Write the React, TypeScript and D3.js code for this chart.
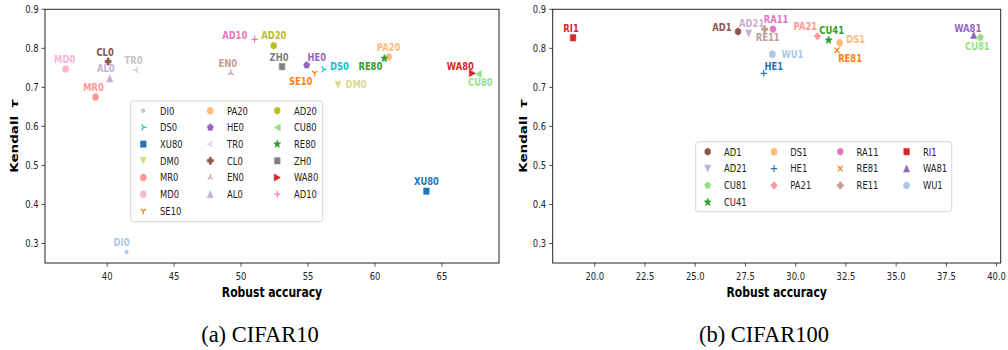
import React, { useEffect, useRef } from 'react'
import * as d3 from 'd3'

// ---- CIFAR10 panel data ----
const c10Names = ['DI0', 'DS0', 'XU80', 'DM0', 'MR0', 'MD0', 'SE10', 'PA20', 'HE0', 'TR0',
  'CL0', 'EN0', 'AL0', 'AD20', 'CU80', 'RE80', 'ZH0', 'WA80', 'AD10']
const c10Acc = [41.45, 56.15, 63.84, 57.24, 39.13, 36.9, 55.5, 61.02, 54.9, 42.19,
  40.07, 49.23, 40.2, 52.44, 67.72, 60.7, 53.06, 67.27, 51.02]
const c10Tau = [0.278, 0.746, 0.434, 0.707, 0.675, 0.747, 0.737, 0.778, 0.757, 0.744,
  0.766, 0.737, 0.723, 0.807, 0.734, 0.774, 0.753, 0.736, 0.823]

// ---- CIFAR100 panel data ----
const c100Names = ['AD1', 'AD21', 'CU81', 'CU41', 'DS1', 'HE1', 'PA21', 'RA11', 'RE81', 'RE11',
  'RI1', 'WA81', 'WU1']
const c100Acc = [27.13, 27.66, 39.19, 31.64, 32.19, 28.41, 31.08, 28.87, 32.06, 28.46,
  18.92, 38.86, 28.84]
const c100Tau = [0.843, 0.838, 0.828, 0.821, 0.814, 0.736, 0.831, 0.849, 0.795, 0.849,
  0.827, 0.834, 0.785]

// ticks
const yTicks = [0.3, 0.4, 0.5, 0.6, 0.7, 0.8, 0.9]
const c10XTicks = [40, 45, 50, 55, 60, 65]
const c100XTicks = [20, 22.5, 25, 27.5, 30, 32.5, 35, 37.5, 40]

// ---- styles (tab20) ----
const c10Colors = ['#aec7e8', '#17becf', '#1f77b4', '#dbdb8d', '#ff9896', '#f7b6d2', '#ff7f0e', '#ffbb78', '#9467bd', '#c7c7c7',
  '#8c564b', '#c49c94', '#c5b0d5', '#bcbd22', '#98df8a', '#2ca02c', '#7f7f7f', '#d62728', '#e377c2']
const c10Markers = ['.', '4', 's', 'v', 'o', 'o', '1', 'o', 'p', '3', 'P', '2', '^', 'h', '<', '*', 's', '>', '+']
const c100Colors = ['#8c564b', '#c5b0d5', '#98df8a', '#2ca02c', '#ffbb78', '#1f77b4', '#ff9896', '#e377c2', '#ff7f0e', '#c49c94',
  '#d62728', '#9467bd', '#aec7e8']
const c100Markers = ['h', 'v', 'p', '*', 'o', '+', 'D', 'h', 'x', 'P', 's', '^', 'o']

// where each name label sits relative to its marker (px)
const c10LabelOff = [[-5, -10], [16, -3], [0, -10], [18, 0], [-2, -10], [-1, -10], [-14, 8], [0, -10], [10, -8], [-3, -10],
  [-3, -9], [-3, -10], [-4, -10], [0, -10], [2, 8], [-14, 8], [-3, -10], [-12, -7], [-20, -4]]
const c100LabelOff = [[-16, -4], [3, -10], [-3, 9], [3, -10], [16, -4], [10, -7], [-12, -10], [3, -10], [13, 8], [3, 8],
  [-2, -10], [-6, -7], [20, 0]]

const SX = 0.8 // the figure was squeezed horizontally
const FONT = 'DejaVu Sans, sans-serif'
const MR = 3.5 // marker radius

function poly(pts: number[][]) {
  return 'M' + pts.map(p => p[0].toFixed(2) + ',' + p[1].toFixed(2)).join('L') + 'Z'
}
function ngon(n: number, r: number, rot: number) {
  return poly(d3.range(n).map(i => {
    const a = rot + (i * 2 * Math.PI) / n
    return [r * Math.sin(a), -r * Math.cos(a)]
  }))
}
function circle(r: number) {
  return `M${r},0A${r},${r} 0 1,1 ${-r},0A${r},${r} 0 1,1 ${r},0Z`
}
function tri(dirs: number[][], r: number) {
  return dirs.map(d => `M0,0L${d[0] * r},${d[1] * r}`).join('')
}
const STROKED = ['+', 'x', '1', '2', '3', '4']

function markerPath(m: string, r: number) {
  switch (m) {
    case '.': return circle(r * 0.55)
    case 'o': return circle(r)
    case 's': return poly([[-r * 0.9, -r * 0.9], [r * 0.9, -r * 0.9], [r * 0.9, r * 0.9], [-r * 0.9, r * 0.9]])
    case '^': return poly([[0, -r], [r, r], [-r, r]])
    case 'v': return poly([[0, r], [r, -r], [-r, -r]])
    case '<': return poly([[-r, 0], [r, -r], [r, r]])
    case '>': return poly([[r, 0], [-r, -r], [-r, r]])
    case 'p': return ngon(5, r * 1.05, 0)
    case 'h': return ngon(6, r * 1.05, 0)
    case 'D': return poly([[0, -r * 1.1], [r * 1.1, 0], [0, r * 1.1], [-r * 1.1, 0]])
    case '*': return poly(d3.range(10).map(i => {
      const a = (i * Math.PI) / 5
      const rr = i % 2 ? r * 0.5 : r * 1.2
      return [rr * Math.sin(a), -rr * Math.cos(a)]
    }))
    case 'P': {
      const a = r * 0.36
      return poly([[-a, -r], [a, -r], [a, -a], [r, -a], [r, a], [a, a], [a, r], [-a, r], [-a, a], [-r, a], [-r, -a], [-a, -a]])
    }
    case '+': return `M${-r},0H${r}M0,${-r}V${r}`
    case 'x': return `M${-r * 0.8},${-r * 0.8}L${r * 0.8},${r * 0.8}M${-r * 0.8},${r * 0.8}L${r * 0.8},${-r * 0.8}`
    case '1': return tri([[0, 1], [-0.866, -0.5], [0.866, -0.5]], r)
    case '2': return tri([[0, -1], [-0.866, 0.5], [0.866, 0.5]], r)
    case '3': return tri([[-1, 0], [0.5, -0.866], [0.5, 0.866]], r)
    case '4': return tri([[1, 0], [-0.5, -0.866], [-0.5, 0.866]], r)
  }
  return circle(r)
}

function drawMarker(g: any, m: string, color: string, x: number, y: number, r: number) {
  const stroked = STROKED.includes(m)
  g.append('path')
    .attr('d', markerPath(m, r))
    .attr('transform', `translate(${x},${y}) scale(0.88,1)`)
    .attr('fill', stroked ? 'none' : color)
    .attr('stroke', color)
    .attr('stroke-width', stroked ? 1.3 : 0.6)
}

function squishText(g: any, txt: string, x: number, y: number, size: number, opts: any = {}) {
  return g.append('text')
    .attr('transform', `translate(${x},${y}) scale(${SX},1)${opts.rotate ? ' rotate(-90)' : ''}`)
    .attr('text-anchor', opts.anchor || 'middle')
    .attr('dominant-baseline', opts.baseline || 'central')
    .attr('font-family', FONT)
    .attr('font-size', size)
    .attr('font-weight', opts.bold ? 'bold' : 'normal')
    .attr('fill', opts.fill || '#222')
    .text(txt)
}

const panels = [
  {
    left: 45, right: 499, top: 9.3, bottom: 263,
    names: c10Names, acc: c10Acc, tau: c10Tau, colors: c10Colors, markers: c10Markers, offs: c10LabelOff,
    xTicks: c10XTicks, xFmt: d3.format('d'),
    legend: { x: 130.7, y: 101, w: 192, h: 120.7, ncol: 3, mx: 143.3, my: 110.7, tx: 16.7, cs: 67, rs: 16.7 },
    ylabelX: 14, caption: '(a) CIFAR10', capX: 260,
  },
  {
    left: 552.7, right: 1000.7, top: 9.3, bottom: 263,
    names: c100Names, acc: c100Acc, tau: c100Tau, colors: c100Colors, markers: c100Markers, offs: c100LabelOff,
    xTicks: c100XTicks, xFmt: d3.format('.1f'),
    legend: { x: 695.7, y: 141.7, w: 256, h: 70, ncol: 4, mx: 707.7, my: 151.7, tx: 16.3, cs: 66.3, rs: 16.85 },
    ylabelX: 523, caption: '(b) CIFAR100', capX: 764,
  },
]

export default function App() {
  const ref = useRef<SVGSVGElement>(null)

  useEffect(() => {
    document.body.style.margin = '0'
    const svg = d3.select(ref.current)
    svg.selectAll('*').remove()
    svg.append('rect').attr('width', 1008).attr('height', 350).attr('fill', '#fff')

    panels.forEach(p => {
      const g = svg.append('g')
      const [lo, hi] = d3.extent(p.acc) as [number, number]
      const pad = (hi - lo) * 0.05
      const x = d3.scaleLinear().domain([lo - pad, hi + pad]).range([p.left, p.right])
      const y = d3.scaleLinear().domain([0.25, 0.9]).range([p.bottom, p.top])

      /* ticks */
      yTicks.forEach(t => {
        g.append('line').attr('x1', p.left - 3.5).attr('x2', p.left)
          .attr('y1', y(t)).attr('y2', y(t)).attr('stroke', '#222').attr('stroke-width', 0.8)
        squishText(g, t.toFixed(1), p.left - 6.5, y(t), 10.5, { anchor: 'end' })
      })
      p.xTicks.forEach(t => {
        g.append('line').attr('x1', x(t)).attr('x2', x(t))
          .attr('y1', p.bottom).attr('y2', p.bottom + 3.5).attr('stroke', '#222').attr('stroke-width', 0.8)
        squishText(g, p.xFmt(t), x(t), p.bottom + 13, 10.5)
      })

      /* axis labels */
      squishText(g, 'Robust accuracy', (p.left + p.right) / 2, 293, 13.5, { bold: true, fill: '#000' })
      const yl = squishText(g, '', p.ylabelX, (p.top + p.bottom) / 2, 13.5, { bold: true, fill: '#000', rotate: true })
      yl.append('tspan').text('Kendall ')
      yl.append('tspan').attr('font-style', 'italic').attr('dx', 3).text('τ')

      /* points */
      p.names.forEach((n, i) => {
        drawMarker(g, p.markers[i], p.colors[i], x(p.acc[i]), y(p.tau[i]), MR)
      })
      p.names.forEach((n, i) => {
        squishText(g, n, x(p.acc[i]) + p.offs[i][0], y(p.tau[i]) + p.offs[i][1], 10.5,
          { bold: true, fill: p.colors[i] })
      })

      /* frame */
      g.append('rect').attr('x', p.left).attr('y', p.top)
        .attr('width', p.right - p.left).attr('height', p.bottom - p.top)
        .attr('fill', 'none').attr('stroke', '#222').attr('stroke-width', 1)

      /* legend, filled column by column like matplotlib */
      const L = p.legend
      g.append('rect').attr('x', L.x).attr('y', L.y).attr('width', L.w).attr('height', L.h)
        .attr('rx', 2.5).attr('fill', '#fff').attr('fill-opacity', 0.8)
        .attr('stroke', '#d6d6d6').attr('stroke-width', 1)
      const n = p.names.length
      const rows = Math.ceil(n / L.ncol)
      const extra = n % L.ncol
      let col = 0, row = 0
      p.names.forEach((name, i) => {
        const colRows = extra === 0 || col < extra ? rows : rows - 1
        const lx = L.mx + col * L.cs
        const ly = L.my + row * L.rs
        drawMarker(g, p.markers[i], p.colors[i], lx, ly, MR)
        squishText(g, name, lx + L.tx, ly, 10.5, { anchor: 'start' })
        row++
        if (row >= colRows) { row = 0; col++ }
      })

      /* caption */
      g.append('text').attr('x', p.capX).attr('y', 342)
        .attr('text-anchor', 'middle')
        .attr('font-family', 'Liberation Serif, Times New Roman, serif')
        .attr('font-size', 22.5).attr('fill', '#000')
        .text(p.caption)
    })
  }, [])

  return <svg ref={ref} width={1008} height={350} style={{ display: 'block' }} />
}
